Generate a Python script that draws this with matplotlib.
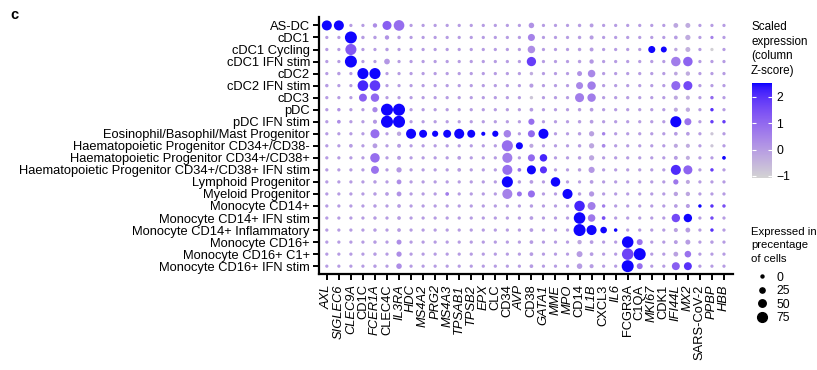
import numpy as np
import matplotlib
matplotlib.use("Agg")
import matplotlib.pyplot as plt
from matplotlib.colors import ListedColormap
from matplotlib.lines import Line2D

plt.rcParams['font.family'] = ['Liberation Sans', 'DejaVu Sans']

# ---------- data ----------
cell_types = [
    "AS-DC", "cDC1", "cDC1 Cycling", "cDC1 IFN stim", "cDC2", "cDC2 IFN stim",
    "cDC3", "pDC", "pDC IFN stim", "Eosinophil/Basophil/Mast Progenitor",
    "Haematopoietic Progenitor CD34+/CD38-", "Haematopoietic Progenitor CD34+/CD38+",
    "Haematopoietic Progenitor CD34+/CD38+ IFN stim", "Lymphoid Progenitor",
    "Myeloid Progenitor", "Monocyte CD14+", "Monocyte CD14+ IFN stim",
    "Monocyte CD14+ Inflammatory", "Monocyte CD16+", "Monocyte CD16+ C1+",
    "Monocyte CD16+ IFN stim",
]

genes = [
    "AXL", "SIGLEC6", "CLEC9A", "CD1C", "FCER1A", "CLEC4C", "IL3RA", "HDC",
    "MS4A2", "PRG2", "MS4A3", "TPSAB1", "TPSB2", "EPX", "CLC", "CD34", "AVP",
    "CD38", "GATA1", "MME", "MPO", "CD14", "IL1B", "CXCL3", "IL6", "FCGR3A",
    "C1QA", "MKI67", "CDK1", "IFI44L", "MX2", "SARS-CoV-2", "PPBP", "HBB",
]
upright_genes = ["CD1C", "CLEC4C", "CLC", "CD34", "CD38", "CD14", "CXCL3",
                 "FCGR3A", "C1QA", "CDK1", "SARS-CoV-2"]

# percentage of cells expressing (rows = cell types, cols = genes)
pct = [
    [78, 78, 3, 3, 15, 67, 85, 3, 3, 3, 3, 3, 3, 3, 3, 3, 3, 28, 3, 3, 3, 5, 10, 3, 3, 3, 3, 3, 3, 20, 22, 3, 3, 3],
    [3, 3, 100, 5, 5, 15, 5, 3, 3, 3, 3, 3, 3, 3, 3, 3, 3, 45, 3, 3, 3, 5, 12, 3, 3, 3, 3, 3, 3, 8, 25, 3, 3, 3],
    [3, 3, 90, 3, 3, 5, 3, 3, 3, 3, 3, 3, 3, 3, 3, 3, 3, 50, 3, 3, 3, 5, 10, 3, 3, 3, 3, 45, 33, 5, 22, 3, 3, 3],
    [3, 3, 100, 3, 3, 30, 3, 3, 3, 3, 3, 3, 3, 3, 3, 3, 3, 70, 3, 3, 3, 5, 15, 3, 3, 3, 3, 3, 3, 72, 72, 3, 3, 3],
    [3, 5, 3, 90, 90, 3, 3, 3, 3, 3, 3, 3, 3, 3, 3, 3, 3, 5, 3, 3, 3, 22, 50, 3, 3, 3, 3, 3, 3, 8, 15, 3, 3, 3],
    [5, 3, 3, 85, 85, 3, 3, 3, 3, 3, 3, 3, 3, 3, 3, 3, 3, 12, 3, 3, 3, 45, 60, 3, 3, 3, 3, 3, 3, 67, 67, 3, 3, 3],
    [3, 3, 3, 55, 60, 3, 3, 3, 3, 3, 3, 3, 3, 3, 3, 3, 3, 5, 3, 3, 3, 67, 60, 3, 3, 3, 3, 3, 3, 12, 12, 3, 5, 3],
    [3, 5, 3, 3, 25, 100, 100, 3, 3, 3, 3, 3, 3, 3, 3, 3, 3, 8, 3, 3, 3, 5, 8, 3, 3, 3, 3, 3, 3, 12, 15, 3, 5, 3],
    [3, 8, 3, 3, 12, 100, 100, 3, 3, 3, 3, 3, 3, 3, 3, 3, 3, 35, 3, 3, 3, 5, 8, 3, 3, 3, 3, 3, 3, 90, 45, 3, 5, 5],
    [3, 3, 3, 3, 67, 3, 15, 78, 55, 35, 55, 78, 55, 12, 35, 50, 3, 45, 78, 3, 3, 5, 25, 5, 3, 3, 3, 3, 3, 8, 8, 3, 3, 3],
    [3, 3, 8, 3, 20, 3, 10, 3, 3, 3, 3, 3, 3, 3, 3, 90, 45, 12, 3, 3, 3, 5, 25, 8, 3, 3, 3, 3, 3, 12, 12, 3, 3, 3],
    [3, 3, 3, 3, 72, 3, 10, 3, 3, 3, 3, 8, 3, 3, 3, 78, 3, 45, 50, 3, 3, 5, 25, 3, 3, 3, 3, 3, 3, 10, 12, 3, 3, 8],
    [3, 3, 3, 3, 55, 3, 25, 3, 3, 3, 3, 8, 3, 3, 3, 78, 8, 67, 45, 3, 3, 5, 35, 3, 3, 3, 3, 3, 3, 78, 67, 3, 5, 3],
    [3, 3, 3, 3, 5, 3, 20, 3, 3, 3, 3, 3, 3, 3, 3, 90, 5, 8, 3, 72, 3, 3, 8, 3, 3, 3, 3, 3, 3, 25, 12, 3, 3, 3],
    [3, 3, 3, 3, 5, 8, 20, 3, 3, 3, 8, 3, 3, 3, 3, 78, 22, 45, 3, 3, 78, 5, 25, 3, 3, 3, 3, 3, 3, 15, 15, 3, 3, 3],
    [3, 3, 3, 3, 5, 3, 8, 3, 3, 3, 3, 3, 3, 3, 3, 3, 3, 5, 3, 3, 3, 83, 55, 5, 3, 3, 3, 3, 3, 8, 12, 5, 5, 5],
    [3, 3, 3, 3, 5, 3, 8, 3, 3, 3, 3, 3, 3, 3, 3, 3, 3, 8, 3, 3, 3, 95, 50, 8, 3, 3, 3, 3, 3, 60, 60, 3, 5, 3],
    [3, 3, 3, 3, 5, 3, 8, 3, 3, 3, 3, 3, 3, 3, 3, 3, 3, 8, 3, 3, 3, 100, 78, 40, 6, 3, 3, 3, 3, 12, 20, 3, 5, 3],
    [3, 3, 3, 3, 5, 3, 22, 3, 3, 3, 3, 3, 3, 3, 3, 3, 3, 8, 3, 3, 3, 15, 8, 3, 3, 95, 33, 3, 3, 10, 22, 3, 5, 3],
    [3, 3, 3, 3, 5, 3, 25, 3, 3, 3, 3, 3, 3, 3, 3, 3, 3, 8, 3, 3, 3, 33, 8, 3, 3, 95, 100, 3, 3, 20, 40, 3, 3, 3],
    [3, 3, 3, 3, 5, 3, 28, 3, 3, 3, 3, 3, 3, 3, 3, 3, 3, 8, 3, 3, 3, 28, 12, 3, 3, 100, 33, 3, 3, 55, 55, 3, 3, 3],
]

# scaled expression (column z-score)
zscore = [
    [2.5, 2.5, 0, 0, 0.3, 1.2, 0.9, 0, 0, 0, 0, 0, 0, 0, 0, 0, 0, 0.2, 0, 0, 0, 0, 0, 0, 0, 0, 0, 0, 0, -0.2, -0.3, 0, 0, 0],
    [0, 0, 2.5, 0, 0, 0.2, 0, 0, 0, 0, 0, 0, 0, 0, 0, 0, 0, 0.5, 0, 0, 0, 0, 0, 0, 0, 0, 0, 0, 0, 0, -0.3, 0, 0.5, 0],
    [0, 0, 1.3, 0, 0, 0, 0, 0, 0, 0, 0, 0, 0, 0, 0, 0, 0, 0.3, 0, 0, 0, 0, 0, 0, 0, 0, 0, 2.5, 2.5, -0.2, -0.4, 0, -1.0, 0],
    [0, 0, 2.5, 0, 0, 0.1, 0, 0, 0, 0, 0, 0, 0, 0, 0, 0, 0, 1.8, 0, 0, 0, 0, 0.1, 0, 0, 0, 0, 0, 0, 0.6, 1.1, 0, 0, 0],
    [0, 0, 0, 2.5, 2.5, 0, 0, 0, 0, 0, 0, 0, 0, 0, 0, 0, 0, -0.3, 0, 0, 0, 0.2, 0.4, 0, 0, 0, 0, 0, 0, -0.2, -0.3, 0, 0, 0],
    [0, 0, 0, 2.2, 1.9, 0, 0, 0, 0, 0, 0, 0, 0, 0, 0, 0, 0, 0, 0, 0, 0, 0.4, 0.6, 0, 0, 0, 0, 0, 0, 1.0, 1.6, 0, 0, 0],
    [0, 0, 0, 1.2, 1.0, 0, 0, 0, 0, 0, 0, 0, 0, 0, 0, 0, 0, -0.8, 0, 0, 0, 0.6, 0.6, 0, 0, 0, 0, 0, 0, -0.2, -0.3, 0, 1.0, 0],
    [0, 0.2, 0, 0, 0.4, 2.5, 2.5, 0, 0, 0, 0, 0, 0, 0, 0, 0, 0, 0, 0, 0, 0, 0, 0, 0, 0, 0, 0, 0, 0, -0.2, -0.3, 0, 2.0, 0],
    [0, 0.3, 0, 0, 0.1, 2.5, 2.5, 0, 0, 0, 0, 0, 0, 0, 0, 0, 0, 0.9, 0, 0, 0, 0, 0, 0, 0, 0, 0, 0, 0, 2.5, 0.8, 0, 1.8, 1.8],
    [0, 0, 0, 0, 0.9, 0, -0.2, 2.5, 2.5, 2.5, 2.5, 2.5, 2.5, 2.5, 2.5, 0.5, 0, 1.0, 2.5, 0, 0, 0, -0.1, 0.5, 0, 0, 0, 0, 0, 0, 0, 0, -0.8, 0],
    [0, 0, 0, 0, 0, 0, 0, 0, 0, 0, 0, 0, 0, 0, 0, 0.9, 2.5, -0.2, 0, 0, 0, 0, -0.2, 0.4, 0, 0, 0, 0, 0, -0.2, -0.3, 0, -0.8, 0],
    [0, 0, 0, 0, 0.9, 0, 0, 0, 0, 0, 0, 0, 0, 0, 0, 0.6, 0, 1.0, 2.2, 0, 0, 0, -0.2, 0, 0, 0, 0, 0, 0, 0, -0.3, 0, 0, 2.5],
    [0, 0, 0, 0, 0.8, 0, 0.1, 0, 0, 0, 0, 0, 0, 0, 0, 0.9, 0.8, 2.5, 2.0, 0, 0, 0, 0.1, 0, 0, 0, 0, 0, 0, 2.1, 1.1, 0, 1.8, 0],
    [0, 0, 0, 0, 0, 0, 0.3, 0, 0, 0, 0, 0, 0, 0, 0, 2.5, 0, 0, 0, 2.5, 0, 0, 0, 0, 0, 0, 0, 0, 0, 0.7, -0.2, 0, 0, 0],
    [0, 0, 0, 0, 0, 0, 0.2, 0, 0, 0, 0.6, 0, 0, 0, 0, 0.5, 0.8, 0.9, 0, 0, 2.5, 0, 0.1, 0, 0, 0, 0, 0, 0, -0.1, -0.2, 0, 0, 0],
    [0, 0, 0, 0, 0, 0, 0, 0, 0, 0, 0, 0, 0, 0, 0, 0, 0, 0, 0, 0, 0, 2.2, 0.6, 0.6, 0, 0, 0, 0, 0, 0, 0, 2.5, 2.0, 1.5],
    [0, 0, 0, 0, 0, 0, 0, 0, 0, 0, 0, 0, 0, 0, 0, 0, 0, 0, 0, 0, 0, 2.5, 0.7, 1.5, 0, 0, 0, 0, 0, 1.6, 2.5, 0, 1.6, 0],
    [0, 0, 0, 0, 0, 0, 0, 0, 0, 0, 0, 0, 0, 0, 0, 0, 0, 0, 0, 0, 0, 2.5, 2.5, 2.5, 2.5, 0, 0, 0, 0, -0.1, 0, 0, 2.0, 0],
    [0, 0, 0, 0, 0, 0, 0.3, 0, 0, 0, 0, 0, 0, 0, 0, 0, 0, 0, 0, 0, 0, -0.2, 0, 0, 0, 2.5, 0.8, 0, 0, 0, 0, 0, 0, 0],
    [0, 0, 0, 0, 0, 0, 0.3, 0, 0, 0, 0, 0, 0, 0, 0, 0, 0, 0, 0, 0, 0, 0, 0, 0, 0, 1.7, 2.5, 0, 0, -0.1, 0.8, 0, 0, 0],
    [0, 0, 0, 0, 0, 0, 0.3, 0, 0, 0, 0, 0, 0, 0, 0, 0, 0, 0, 0, 0, 0, 0, 0, 0, 0, 2.5, 0.9, 0, 0, 1.2, 2.0, 0, 0, 0],
]

size_breaks = [0, 25, 50, 75]
color_ticks = [-1, 0, 1, 2]
Z_MIN, Z_MAX = -1.08, 2.53
FS = 9.3       # axis labels
LFS = 8.2      # legend text


# ---------- grey -> blue gradient interpolated in CIELAB (like ggplot) ----------
M = np.array([[0.4124, 0.3576, 0.1805], [0.2126, 0.7152, 0.0722], [0.0193, 0.1192, 0.9505]])
WHITE = np.array([0.95047, 1.0, 1.08883])


def to_lab(rgb):
    c = np.asarray(rgb, float)
    lin = np.where(c <= 0.04045, c / 12.92, ((c + 0.055) / 1.055) ** 2.4)
    xyz = M @ lin / WHITE
    f = np.where(xyz > 0.008856, np.cbrt(xyz), 7.787 * xyz + 16 / 116)
    return np.array([116 * f[1] - 16, 500 * (f[0] - f[1]), 200 * (f[1] - f[2])])


def from_lab(lab):
    L, a, b = lab
    fy = (L + 16) / 116
    f = np.array([fy + a / 500, fy, fy - b / 200])
    xyz = np.where(f ** 3 > 0.008856, f ** 3, (f - 16 / 116) / 7.787) * WHITE
    lin = np.linalg.solve(M, xyz)
    lin = np.clip(lin, 0, 1)
    c = np.where(lin <= 0.0031308, 12.92 * lin, 1.055 * lin ** (1 / 2.4) - 0.055)
    return np.clip(c, 0, 1)


lo, hi = to_lab([0.827, 0.827, 0.827]), to_lab([0, 0, 1])
cmap = ListedColormap([from_lab(lo + (hi - lo) * t) for t in np.linspace(0, 1, 256)])


def diam_px(p):
    return 3.0 + 0.09 * np.asarray(p, float)


# ---------- plot ----------
fig = plt.figure(figsize=(8.17, 3.70), dpi=100)
ax = fig.add_axes([319 / 817, 1 - 274 / 370, (733 - 319) / 817, (274 - 17) / 370])

pct_arr = np.array(pct, float)
z_arr = np.array(zscore, float)
n_rows, n_cols = pct_arr.shape
xx, yy = np.meshgrid(np.arange(n_cols), np.arange(n_rows))
sizes = (diam_px(pct_arr) * 0.72) ** 2

sc = ax.scatter(xx.ravel(), yy.ravel(), s=sizes.ravel(), c=z_arr.ravel(),
                cmap=cmap, vmin=Z_MIN, vmax=Z_MAX, linewidths=0)

ax.set_xlim(-0.65, n_cols - 0.25)
ax.set_ylim(n_rows - 0.35, -0.7)
ax.set_xticks(range(n_cols))
ax.set_xticklabels(genes, rotation=90, fontsize=FS)
for lab in ax.get_xticklabels():
    if lab.get_text() not in upright_genes:
        lab.set_fontstyle('italic')
ax.set_yticks(range(n_rows))
ax.set_yticklabels(cell_types, fontsize=FS)
for side in ['top', 'right']:
    ax.spines[side].set_visible(False)
for side in ['left', 'bottom']:
    ax.spines[side].set_linewidth(1.6)
ax.tick_params(length=4.5, width=1.4, pad=2)
ax.tick_params(axis='x', pad=3)

fig.text(10 / 817, 1 - 15 / 370, 'c', fontsize=10.5, fontweight='bold', va='center')

# colour bar
cax = fig.add_axes([752 / 817, 1 - 178 / 370, 20 / 817, 95 / 370])
cb = fig.colorbar(sc, cax=cax, ticks=color_ticks)
cb.outline.set_visible(False)
cax.tick_params(which='both', direction='in', color='white', length=3, width=0.8,
                left=True, right=True, labelsize=LFS + 0.5, pad=3)
cb.ax.set_yticklabels([str(t).replace('-', '\u2212') for t in color_ticks])
fig.text(751 / 817, 1 - 21 / 370, 'Scaled\nexpression\n(column\nZ-score)',
         fontsize=LFS + 0.2, va='top', ha='left', linespacing=1.3)

# size legend
handles = [Line2D([], [], marker='o', linestyle='', color='black',
                  markersize=diam_px(b) * 0.72) for b in size_breaks]
leg = fig.legend(handles, [str(b) for b in size_breaks], loc='upper left',
                 bbox_to_anchor=(746 / 817, 1 - 222 / 370), frameon=False,
                 fontsize=LFS + 0.5, title='Expressed in\nprecentage\nof cells',
                 title_fontsize=LFS, alignment='left', labelspacing=0.12,
                 handletextpad=0.3, handlelength=1.8, borderaxespad=0)
leg.get_title().set_linespacing(1.45)
leg._legend_box.sep = 5.5

fig.savefig('out.png', dpi=100)
